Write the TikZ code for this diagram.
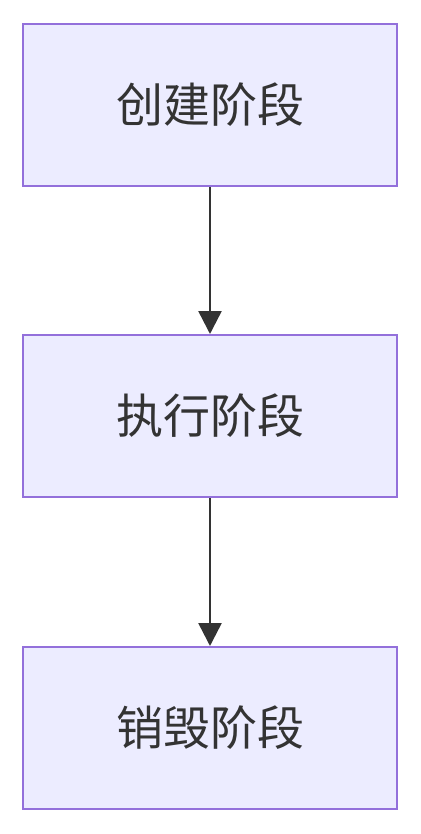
\documentclass[tikz,border=0pt]{standalone}
\usepackage{fontspec}
\newfontfamily\cjk{Noto Sans CJK SC}
\usetikzlibrary{arrows.meta,positioning}
\definecolor{boxfill}{HTML}{ECECFF}
\definecolor{boxline}{HTML}{9370DB}
\definecolor{ink}{HTML}{333333}
\begin{document}
\begin{tikzpicture}[x=1pt,y=-1pt,>={Triangle[length=23pt,width=23pt]},
 stage/.style={draw=boxline,fill=boxfill,line width=2pt,minimum width=374pt,minimum height=162pt,inner sep=0pt,text=ink,font=\cjk\fontsize{47}{56}\selectfont}]
\useasboundingbox (0,0) rectangle (420,834);
\node[stage](create) at (210,105){创建阶段};
\node[stage](run) at (210,416){执行阶段};
\node[stage](destroy) at (210,728){销毁阶段};
\draw[->,ink,line width=2.5pt](create)--(run);
\draw[->,ink,line width=2.5pt](run)--(destroy);
\end{tikzpicture}
\end{document}
